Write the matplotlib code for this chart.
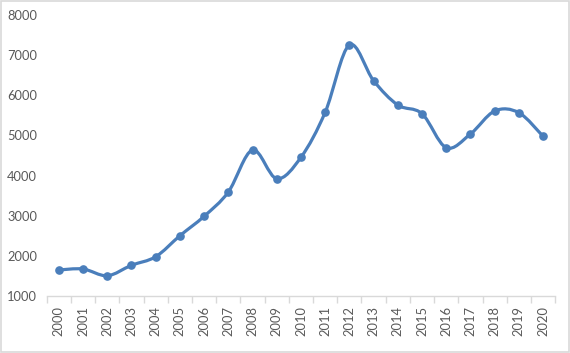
import numpy as np
import matplotlib
matplotlib.use("Agg")
import matplotlib.pyplot as plt
from matplotlib.path import Path
from matplotlib.patches import PathPatch, Rectangle

years = [str(y) for y in range(2000, 2021)]
values = [1654, 1679, 1512, 1771, 1984, 2506, 2989, 3593, 4637, 3923, 4455,
          5574, 7247, 6359, 5755, 5539, 4694, 5034, 5606, 5564, 4977]
yticks = [1000, 2000, 3000, 4000, 5000, 6000, 7000, 8000]

blue = "#4a7ebb"
grey_txt = "#595959"
grey_line = "#d9d9d9"

plt.rcParams['font.family'] = ['Lato', 'DejaVu Sans']

fig = plt.figure(figsize=(5.70, 3.53), dpi=100)
ax = fig.add_axes([0.082, 0.1606, 0.892, 0.7978])

x = np.arange(len(values))
y = np.array(values, dtype=float)

# excel-style smoothed line: catmull-rom as cubic bezier segments
verts = [(x[0], y[0])]
codes = [Path.MOVETO]
n = len(x)
for i in range(n - 1):
    p0 = np.array([x[max(i - 1, 0)], y[max(i - 1, 0)]])
    p1 = np.array([x[i], y[i]])
    p2 = np.array([x[i + 1], y[i + 1]])
    p3 = np.array([x[min(i + 2, n - 1)], y[min(i + 2, n - 1)]])
    c1 = p1 + (p2 - p0) / 6.0
    c2 = p2 - (p3 - p1) / 6.0
    verts += [tuple(c1), tuple(c2), tuple(p2)]
    codes += [Path.CURVE4] * 3
ax.add_patch(PathPatch(Path(verts, codes), fill=False, edgecolor=blue,
                       lw=2.3, capstyle='round', joinstyle='round'))
ax.plot(x, y, 'o', color=blue, markersize=5.2, zorder=3)

ax.set_xlim(-0.5, n - 0.5)
ax.set_ylim(1000, 8000)
ax.set_yticks(yticks)
ax.set_yticklabels([str(t) for t in yticks])
ax.set_xticks(x)
ax.set_xticklabels(years, rotation=90)
ax.set_xticks(np.arange(-0.5, n, 1.0), minor=True)

for s in ['top', 'right', 'left']:
    ax.spines[s].set_visible(False)
ax.spines['bottom'].set_color(grey_line)
ax.spines['bottom'].set_linewidth(1.0)

ax.tick_params(axis='y', length=0, pad=7, labelsize=9.3, labelcolor=grey_txt)
ax.tick_params(axis='x', which='major', length=0, pad=7, labelsize=9.3,
               labelcolor=grey_txt)
ax.tick_params(axis='x', which='minor', length=5, width=1.0, color=grey_line)

fig.patches.append(Rectangle((0.001, 0.002), 0.997, 0.995, transform=fig.transFigure,
                             fill=False, edgecolor=grey_line, lw=1.2))

fig.savefig("out.png", dpi=100)
